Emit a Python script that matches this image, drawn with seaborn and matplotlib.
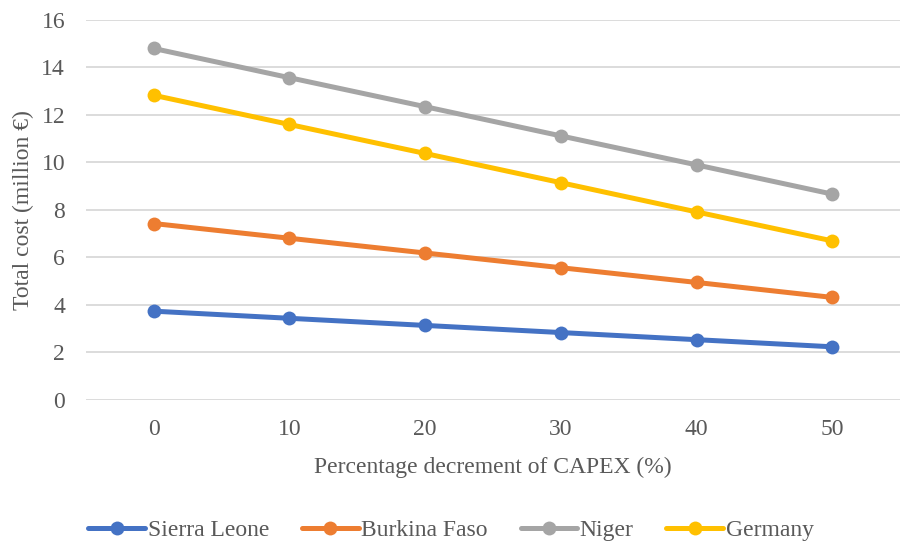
import matplotlib
matplotlib.use("Agg")
import matplotlib.pyplot as plt
import seaborn as sns
import pandas as pd

# CAPEX reduction steps (%) and total cost per country (million €)
capex_decrement = [0, 10, 20, 30, 40, 50]
sierra_leone = [3.74, 3.44, 3.14, 2.84, 2.54, 2.24]
burkina_faso = [7.43, 6.81, 6.19, 5.57, 4.95, 4.32]
niger = [14.80, 13.57, 12.35, 11.12, 9.90, 8.67]
germany = [12.83, 11.60, 10.38, 9.15, 7.92, 6.70]

countries = ["Sierra Leone", "Burkina Faso", "Niger", "Germany"]
series = [sierra_leone, burkina_faso, niger, germany]
palette = ["#4472C4", "#ED7D31", "#A5A5A5", "#FFC000"]

rows = []
for name, vals in zip(countries, series):
    for x, v in zip(capex_decrement, vals):
        rows.append({"CAPEX": x, "Cost": v, "Country": name})
df = pd.DataFrame(rows)

sns.set_style("white")
plt.rcParams["font.family"] = ["Liberation Serif", "DejaVu Serif"]

FS = 17
TXT = "#595959"

fig = plt.figure(figsize=(9.02, 5.49), dpi=100)
ax = fig.add_axes([0.0953, 0.2714, 0.9025, 0.6922])

sns.lineplot(data=df, x="CAPEX", y="Cost", hue="Country", hue_order=countries,
             palette=palette, marker="o", markersize=10, markeredgewidth=0,
             linewidth=3.6, ax=ax, legend=True)

ax.set_xlim(-5, 55)
ax.set_ylim(0, 16)
ax.set_xticks(capex_decrement)
ax.set_yticks(range(0, 17, 2))
ax.grid(axis="y", color="#d9d9d9", linewidth=1.3)
ax.grid(axis="x", visible=False)
ax.set_axisbelow(True)
for s in ax.spines.values():
    s.set_visible(False)
ax.tick_params(axis="both", length=0, labelsize=FS, colors=TXT)
ax.tick_params(axis="x", pad=14)
ax.tick_params(axis="y", pad=15)

ax.set_xlabel("Percentage decrement of CAPEX (%)", fontsize=FS, color=TXT, labelpad=12)
ax.set_ylabel("Total cost (million €)", fontsize=FS, color=TXT, labelpad=5)

handles, labels = ax.get_legend_handles_labels()
ax.legend(handles, labels, loc="center", bbox_to_anchor=(0.5, 19 / 549),
          bbox_transform=fig.transFigure, ncol=4, frameon=False,
          fontsize=FS, handlelength=2.4, handletextpad=0.1, columnspacing=1.4,
          labelcolor=TXT, borderaxespad=0)

fig.savefig("out.png", dpi=100)
